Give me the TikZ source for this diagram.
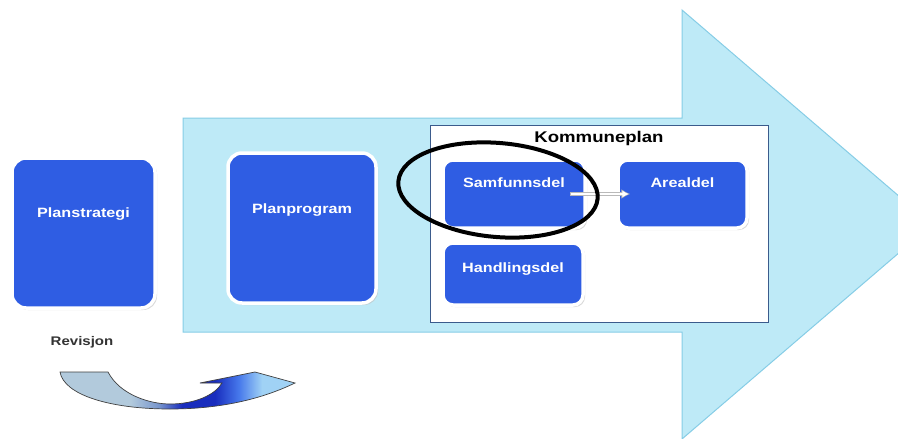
\documentclass[tikz,border=0pt]{standalone}
\usepackage{fontspec}
\setmainfont{Liberation Sans}[FakeStretch=1.2]
\usetikzlibrary{shadows,arrows.meta}
\definecolor{arrowfill}{HTML}{BEEAF7}
\definecolor{arrowline}{HTML}{86CDE6}
\definecolor{boxblue}{HTML}{2F5DE3}
\definecolor{framecol}{HTML}{3B5B8C}
\definecolor{revtext}{HTML}{333333}
\definecolor{revlight}{RGB}{178,202,220}
\definecolor{revmid}{RGB}{120,150,205}
\definecolor{revdark}{RGB}{25,45,190}
\definecolor{revblue}{RGB}{70,120,235}
\definecolor{revhead}{RGB}{160,210,245}
\pgfdeclarehorizontalshading{revshade}{100bp}{
  color(0bp)=(revlight);
  color(40bp)=(revlight);
  color(46bp)=(revmid);
  color(51bp)=(revdark);
  color(58bp)=(revdark);
  color(63bp)=(revblue);
  color(68bp)=(revhead);
  color(100bp)=(revhead)}
\tikzset{
  bluebox/.style={rectangle, rounded corners=#1, fill=boxblue, draw=white, line width=3.5pt,
    drop shadow={shadow xshift=2pt, shadow yshift=-2pt, fill=black!25, opacity=0.6},
    text=white, font=\fontsize{13.5}{15}\selectfont\bfseries, text height=10pt, inner sep=0pt},
  lift/.style={text depth=#1},
}
\begin{document}
\begin{tikzpicture}[x=1pt,y=-1pt]
\clip (0,0) rectangle (898,439);
\fill[white] (0,0) rectangle (898,439);
% big arrow
\draw[fill=arrowfill, draw=arrowline, line width=1pt]
  (183,118) -- (682,118) -- (682,10) -- (932,224.5) -- (682,439) -- (682,332) -- (183,332) -- cycle;
% Kommuneplan frame
\draw[fill=white, draw=framecol, line width=0.8pt] (430,125) rectangle (768,322);
\node[font=\fontsize{15.5}{17}\selectfont\bfseries, text=black] (kp) at (599,138) {Kommuneplan};
% boxes
\node[bluebox=14pt, minimum width=143pt, minimum height=150pt, lift=42pt] (ps) at (83.5,233) {Planstrategi};
\node[bluebox=14pt, minimum width=148pt, minimum height=150pt, lift=40pt] (pp) at (302,228) {Planprogram};
\node[bluebox=10pt, minimum width=142pt, minimum height=68pt, lift=24pt] (sam) at (514,194) {Samfunnsdel};
\node[bluebox=10pt, minimum width=129pt, minimum height=68pt, lift=24pt] (are) at (682.5,194) {Arealdel};
\node[bluebox=10pt, minimum width=140pt, minimum height=62pt, lift=14pt] (han) at (513,274) {Handlingsdel};
% arrow Samfunnsdel -> Arealdel
\draw[draw=gray!55, line width=3.6pt, -{Latex[length=9pt,width=10pt]}]
  ([xshift=-17pt]sam.east) -- ([xshift=14pt]are.west);
\draw[draw=white, line width=1.8pt, -{Latex[length=6.5pt,width=7pt]}]
  ([xshift=-16pt]sam.east) -- ([xshift=12.5pt]are.west);
% ellipse
\draw[black, line width=4pt, rotate around={-5:(498,190)}] (498,190) ellipse [x radius=100, y radius=47];
% Revisjon
\node[font=\fontsize{12.5}{14}\selectfont\bfseries, text=revtext] (rev) at (82,342) {Revisjon};
\shade[shading=revshade, draw=black!75, line width=0.7pt]
  (60,372) -- (108,372) .. controls (120,395) and (150,404) .. (170,404)
  .. controls (195,404) and (215,395) .. (222,383) -- (200,383) -- (255,372) -- (295,383)
  .. controls (270,395) and (230,409) .. (170,409) .. controls (110,409) and (64,395) .. (60,372) -- cycle;
\end{tikzpicture}
\end{document}
